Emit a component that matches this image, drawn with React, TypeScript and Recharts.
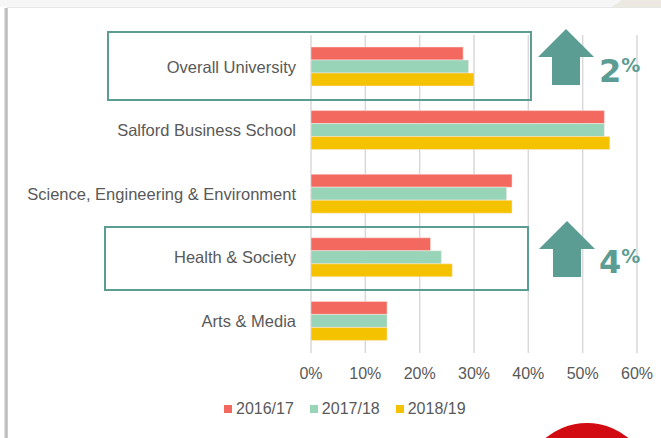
import React from "react";
import { BarChart, Bar, XAxis, YAxis, CartesianGrid, Legend } from "recharts";

const schools = [
  "Overall University",
  "Salford Business School",
  "Science, Engineering & Environment",
  "Health & Society",
  "Arts & Media",
];
const y1617 = [28, 54, 37, 22, 14];
const y1718 = [29, 54, 36, 24, 14];
const y1819 = [30, 55, 37, 26, 14];
const xTicks = [0, 10, 20, 30, 40, 50, 60];
const seriesNames = ["2016/17", "2017/18", "2018/19"];
const colors = ["#F4695F", "#98D4B8", "#F5C200"];

const data = schools.map((s, i) => ({
  name: s,
  "2016/17": y1617[i],
  "2017/18": y1718[i],
  "2018/19": y1819[i],
}));

const TEAL = "#5B9D93";
const TXT = "#595959";
const FONT = "'Liberation Sans', Arial, sans-serif";

const LegendBox = () => (
  <div style={{ display: "flex", gap: 16, fontFamily: FONT, fontSize: 16, color: TXT, lineHeight: "18px" }}>
    {seriesNames.map((n, i) => (
      <span key={n} style={{ display: "flex", alignItems: "center", gap: 4 }}>
        <span style={{ width: 8, height: 8, background: colors[i], display: "inline-block" }} />
        {n}
      </span>
    ))}
  </div>
);

const Arrow = ({ x, y }: { x: number; y: number }) => (
  <svg style={{ position: "absolute", left: x, top: y }} width={58} height={58}>
    <polygon points="29,0 57,28 43,28 43,56 15,56 15,28 1,28" fill={TEAL} />
  </svg>
);

const Pct = ({ x, y, n }: { x: number; y: number; n: string }) => (
  <div style={{ position: "absolute", left: x, top: y, color: TEAL, fontFamily: "'DejaVu Sans', sans-serif", fontWeight: 700, whiteSpace: "nowrap" }}>
    <span style={{ fontSize: 32 }}>{n}</span>
    <span style={{ fontSize: 19, verticalAlign: "top", position: "relative", top: 2 }}>%</span>
  </div>
);

export default function App() {
  return (
    <div style={{ position: "absolute", left: 0, top: 0, width: 661, height: 438, overflow: "hidden", background: "#fff" }}>
      <div style={{ position: "absolute", left: 0, top: 0, width: 661, height: 7, background: "#f6f6f6" }} />
      <svg style={{ position: "absolute", left: 0, top: 0 }} width={661} height={8}>
        <polygon points="612,7 622,0 661,0 661,7" fill="#ECE8E2" />
      </svg>
      <div style={{ position: "absolute", left: 7, top: 7, width: 700, height: 1, background: "#e6e6e6" }} />
      <div style={{ position: "absolute", left: 4, top: 8, width: 4, height: 440, background: "linear-gradient(to right, #ececec, #b5b5b5, #d4d4d4)" }} />

      <div style={{ position: "absolute", left: 0, top: 0 }}>
        <BarChart
          width={661}
          height={438}
          data={data}
          layout="vertical"
          margin={{ top: 35, right: 24, bottom: 27, left: 0 }}
          barGap={0}
          barSize={13}
        >
          <CartesianGrid horizontal={false} stroke="#d9d9d9" strokeWidth={1.5} />
          <XAxis
            type="number"
            domain={[0, 60]}
            ticks={xTicks}
            tickFormatter={(v: number) => `${v}%`}
            axisLine={false}
            tickLine={false}
            tickMargin={9}
            height={40}
            tick={{ fill: TXT, fontSize: 16, fontFamily: FONT }}
          />
          <YAxis
            type="category"
            dataKey="name"
            width={311}
            axisLine={false}
            tickLine={false}
            tickMargin={9}
            tick={{ fill: TXT, fontSize: 16.5, fontFamily: FONT }}
          />
          <Legend
            verticalAlign="bottom"
            content={<LegendBox />}
            wrapperStyle={{ left: 224, width: 300, bottom: 20 }}
          />
          {seriesNames.map((n, i) => (
            <Bar key={n} dataKey={n} fill={colors[i]} stroke="#fbe9e6" strokeWidth={0.5} isAnimationActive={false} />
          ))}
        </BarChart>
      </div>

      <div style={{ position: "absolute", left: 107, top: 31, width: 421, height: 66, border: `2.5px solid ${TEAL}` }} />
      <div style={{ position: "absolute", left: 104, top: 226, width: 421, height: 61, border: `2.5px solid ${TEAL}` }} />
      <Arrow x={537} y={29} />
      <Arrow x={538} y={221} />
      <Pct x={599} y={52} n="2" />
      <Pct x={599} y={243} n="4" />

      <div style={{ position: "absolute", left: 522, top: 423, width: 130, height: 130, borderRadius: "50%", background: "#D20A11" }} />
    </div>
  );
}
